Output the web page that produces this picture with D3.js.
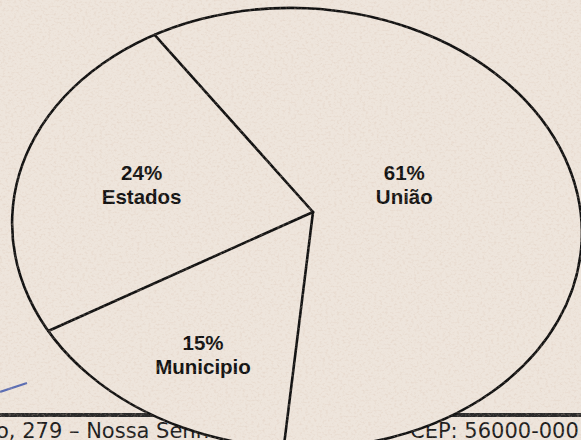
<!DOCTYPE html>
<html>
<head>
<meta charset="utf-8">
<script src="https://cdn.jsdelivr.net/npm/d3@7"></script>
<style>
  body { margin: 0; background: #eee5dc; overflow: hidden; }
</style>
</head>
<body>
<div id="vis"></div>
<script>
// data
const categories = ['União', 'Municipio', 'Estados'];
const shares = [61, 15, 24];
const footerLeft = 'o, 279 – Nossa Senhora';
const footerRight = 'CEP: 56000-000';

const width = 581, height = 440;
const paper = '#eee5dc';
const ink = '#111';

// the scan is hand drawn: ellipse is a bit tilted and the pie vertex is off-centre
const ell = { cx: 297, cy: 228, rx: 285, ry: 220, rot: 2.5 };
const vertex = { x: 313, y: 212 };
const squash = 0.76; // vertical squeeze of the pie
const startAngle = 325.8 * Math.PI / 180;
// label placement: radius (unsquashed) and small angle nudge, in category order
const labelLayout = [{ r: 98, nudge: -6.9 }, { r: 218, nudge: -2.1 }, { r: 175, nudge: -0.9 }];

const svg = d3.select('#vis')
    .append('svg')
    .attr('width', width)
    .attr('height', height);

// paper grain
const defs = svg.append('defs');
const filt = defs.append('filter').attr('id', 'grain')
    .attr('x', 0).attr('y', 0).attr('width', '100%').attr('height', '100%');
filt.append('feTurbulence')
    .attr('type', 'fractalNoise')
    .attr('baseFrequency', '0.35 0.5')
    .attr('numOctaves', 3)
    .attr('seed', 11);
filt.append('feColorMatrix')
    .attr('type', 'matrix')
    .attr('values', '0 0 0 0 0.70  0 0 0 0 0.55  0 0 0 0 0.45  0 0 0 -3 1.6');

svg.append('rect')
    .attr('width', width).attr('height', height)
    .attr('fill', paper);

// footer strip behind the chart
svg.append('rect')
    .attr('x', 0).attr('y', 413)
    .attr('width', width).attr('height', 4)
    .attr('fill', '#2a2a2a');

svg.append('text')
    .attr('x', -4).attr('y', 438)
    .attr('font-family', 'DejaVu Sans, Verdana, sans-serif')
    .attr('font-size', 21)
    .attr('fill', '#1c1c1c')
    .text(footerLeft);

svg.append('text')
    .attr('x', 410).attr('y', 438)
    .attr('font-family', 'DejaVu Sans, Verdana, sans-serif')
    .attr('font-size', 21)
    .attr('fill', '#1c1c1c')
    .text(footerRight);

// pen mark at the left margin
svg.append('path')
    .attr('d', 'M0,392 L27,383')
    .attr('stroke', '#5b6db3')
    .attr('stroke-width', 2.2)
    .attr('fill', 'none');

// the pie outline
svg.append('ellipse')
    .attr('cx', 0).attr('cy', 0)
    .attr('rx', ell.rx).attr('ry', ell.ry)
    .attr('transform', `translate(${ell.cx},${ell.cy}) rotate(${ell.rot})`)
    .attr('fill', paper)
    .attr('stroke', ink)
    .attr('stroke-width', 2.6);

const pie = d3.pie()
    .sort(null)
    .startAngle(startAngle)
    .endAngle(startAngle + 2 * Math.PI);
const slices = pie(shares);

function dir(a) {
    return [Math.sin(a), -squash * Math.cos(a)];
}

// where a ray from the vertex meets the (tilted) ellipse
function hitEllipse(a) {
    const [dx, dy] = dir(a);
    const r = -ell.rot * Math.PI / 180, c = Math.cos(r), s = Math.sin(r);
    const vx = vertex.x - ell.cx, vy = vertex.y - ell.cy;
    const p = (vx * c - vy * s) / ell.rx, q = (vx * s + vy * c) / ell.ry;
    const u = (dx * c - dy * s) / ell.rx, v = (dx * s + dy * c) / ell.ry;
    const A = u * u + v * v, B = p * u + q * v, C = p * p + q * q - 1;
    const t = (-B + Math.sqrt(B * B - A * C)) / A;
    return [vertex.x + t * dx, vertex.y + t * dy];
}

svg.selectAll('.divider')
    .data(slices)
    .join('line')
    .attr('class', 'divider')
    .attr('x1', vertex.x)
    .attr('y1', vertex.y)
    .attr('x2', d => hitEllipse(d.startAngle)[0])
    .attr('y2', d => hitEllipse(d.startAngle)[1])
    .attr('stroke', ink)
    .attr('stroke-width', 2.6)
    .attr('stroke-linecap', 'round');

const labels = svg.selectAll('.label')
    .data(slices)
    .join('text')
    .attr('class', 'label')
    .attr('text-anchor', 'middle')
    .attr('font-family', 'Liberation Sans, Arial, sans-serif')
    .attr('font-weight', 'bold')
    .attr('font-size', 20.5)
    .attr('fill', ink)
    .attr('transform', (d, i) => {
        const lay = labelLayout[i];
        const mid = (d.startAngle + d.endAngle) / 2 + lay.nudge * Math.PI / 180;
        const [dx, dy] = dir(mid);
        return `translate(${vertex.x + lay.r * dx},${vertex.y + lay.r * dy})`;
    });

labels.append('tspan')
    .attr('x', 0).attr('y', -5)
    .text(d => d.data + '%');

labels.append('tspan')
    .attr('x', 0).attr('y', 19)
    .text((d, i) => categories[i]);

// grain over everything
svg.append('rect')
    .attr('width', width).attr('height', height)
    .attr('filter', 'url(#grain)')
    .attr('opacity', 0.3)
    .style('pointer-events', 'none');
</script>
</body>
</html>
